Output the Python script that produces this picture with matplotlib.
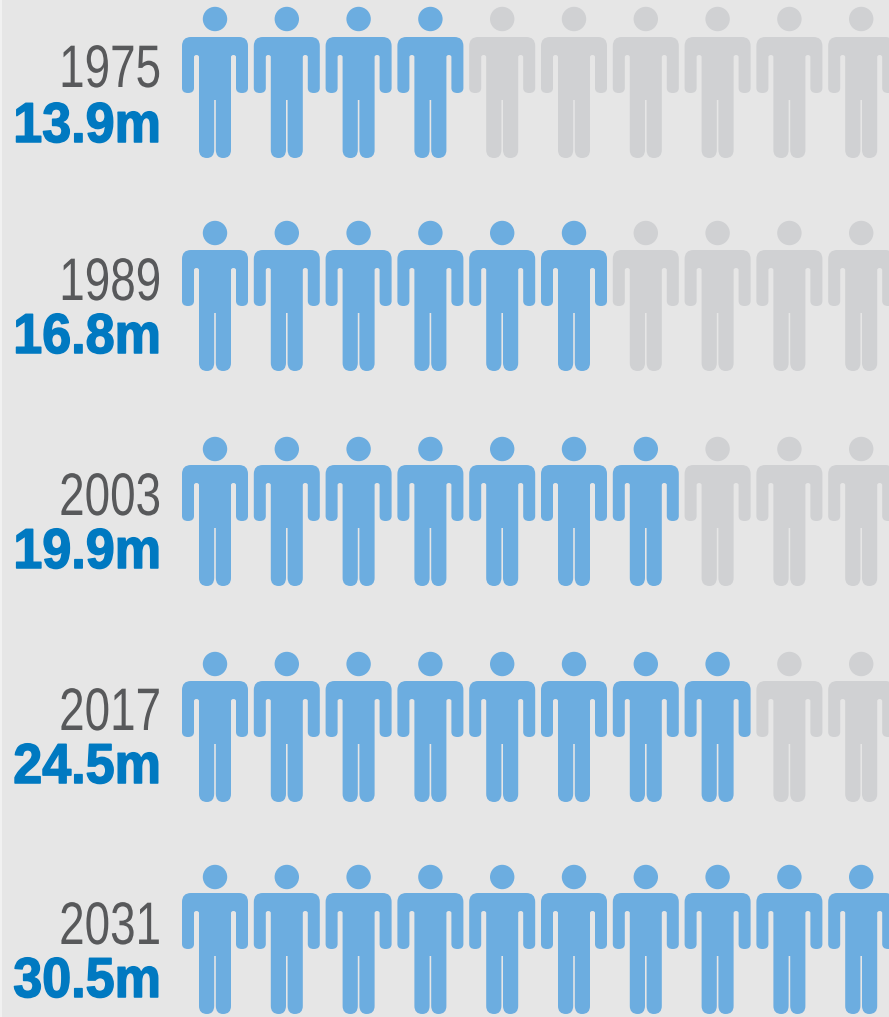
import matplotlib
matplotlib.use('Agg')
import matplotlib.pyplot as plt
from matplotlib.path import Path
from matplotlib.patches import PathPatch, Circle
from matplotlib.patheffects import AbstractPathEffect
from matplotlib.transforms import Affine2D

years = ['1975', '1989', '2003', '2017', '2031']
values = ['13.9m', '16.8m', '19.9m', '24.5m', '30.5m']
filled = [4, 6, 7, 8, 10]
total = 10

blue = '#6cade0'
grey = '#d0d1d3'
year_col = '#58595b'
value_col = '#0079c1'
bg = '#e6e6e6'

row_tops = [37, 250, 465, 681, 893]
head_y = [19, 233, 449, 664, 877]
year_base = [87, 300, 515, 730, 944]
value_base = [142, 353, 568, 783, 997]

# the labels use a condensed face that isn't installed, so stretch the glyphs upward
class Tall(AbstractPathEffect):
    def __init__(self, sy, lw=0):
        super().__init__()
        self.sy = sy
        self.lw = lw

    def draw_path(self, renderer, gc, tpath, affine, rgbFace=None):
        gc.set_linewidth(self.lw)
        renderer.draw_path(gc, tpath, Affine2D().scale(1, self.sy) + affine, rgbFace)

# one person, centre of shoulders at 0,0, y pointing down
M, L, C, Z = Path.MOVETO, Path.LINETO, Path.CURVE3, Path.CLOSEPOLY
body = [
    (M, (-24, 0)), (L, (24, 0)), (C, (33, 0)), (C, (33, 9)),
    (L, (33, 51)), (C, (33, 56)), (C, (27, 56)), (C, (21, 56)), (C, (21, 51)),
    (L, (21, 20)), (C, (21, 18)), (C, (18.5, 18)), (C, (16, 18)), (C, (16, 20)),
    (L, (16, 113)), (C, (16, 121)), (C, (8, 121)), (C, (1, 121)), (C, (0.8, 113)),
    (L, (0.8, 63)), (L, (-0.8, 63)), (L, (-0.8, 113)),
    (C, (-1, 121)), (C, (-8, 121)), (C, (-16, 121)), (C, (-16, 113)),
    (L, (-16, 20)), (C, (-16, 18)), (C, (-18.5, 18)), (C, (-21, 18)), (C, (-21, 20)),
    (L, (-21, 51)), (C, (-21, 56)), (C, (-27, 56)), (C, (-33, 56)), (C, (-33, 51)),
    (L, (-33, 9)), (C, (-33, 0)), (C, (-24, 0)), (Z, (-24, 0)),
]
person = Path([p for c, p in body], [c for c, p in body])

fig = plt.figure(figsize=(8.89, 10.17), dpi=100)
fig.set_facecolor(bg)
ax = fig.add_axes([0, 0, 1, 1])
ax.set_xlim(0, 889)
ax.set_ylim(1017, 0)
ax.axis('off')

for r, year in enumerate(years):
    for i in range(total):
        col = blue if i < filled[r] else grey
        x = 215 + i * 71.8
        ax.add_patch(PathPatch(person, fc=col, ec='none',
                               transform=Affine2D().translate(x, row_tops[r]) + ax.transData))
        ax.add_patch(Circle((x, head_y[r]), 12.2, fc=col, ec='none'))
    ax.text(161, year_base[r], year, ha='right', va='baseline', color=year_col,
            family='Liberation Sans', size=33, path_effects=[Tall(1.31)])
    ax.text(161, value_base[r], values[r], ha='right', va='baseline', color=value_col,
            family='Liberation Sans', weight='bold', size=37.5, path_effects=[Tall(1.08, 1.1)])

ax.plot([0.5, 0.5], [0, 1017], color='#f4f4f4', lw=1.2)

fig.savefig('out.png', dpi=100, facecolor=bg)
